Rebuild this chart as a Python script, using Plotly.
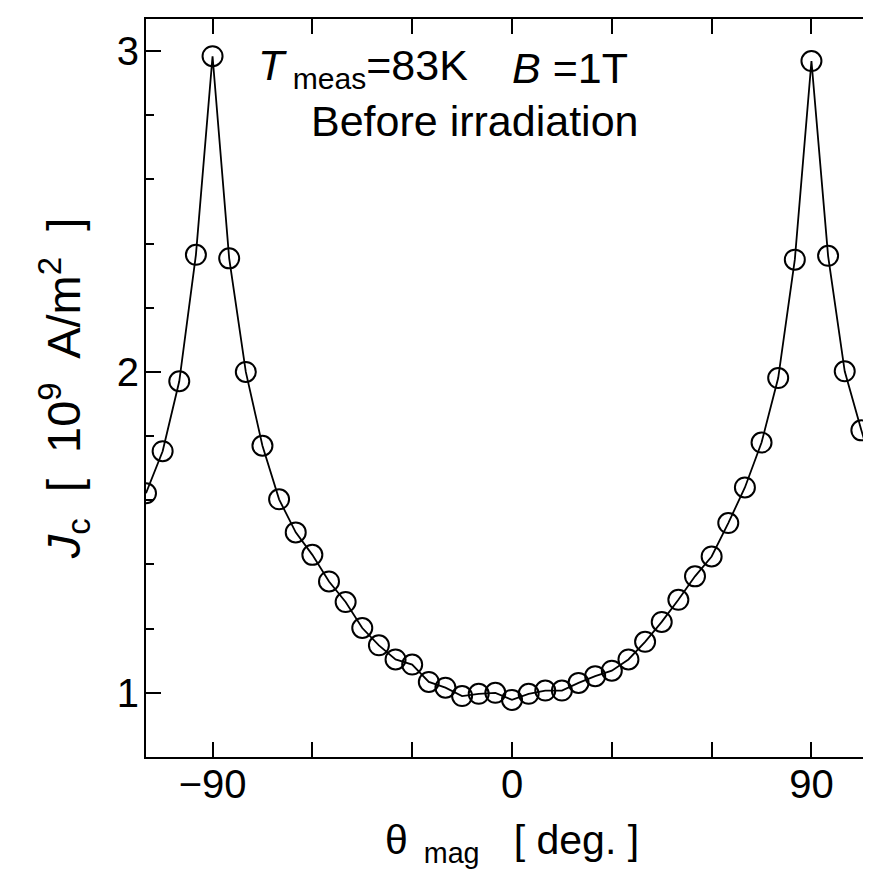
import plotly.graph_objects as go

# Data
theta_deg = [-110, -105, -100, -95, -90, -85, -80, -75, -70, -65, -60, -55, -50,
             -45, -40, -35, -30, -25, -20, -15, -10, -5, 0, 5, 10, 15, 20, 25,
             30, 35, 40, 45, 50, 55, 60, 65, 70, 75, 80, 85, 90, 95, 100, 105, 110]
jc_values = [1.622, 1.753, 1.971, 2.365, 2.984, 2.354, 2.000, 1.770, 1.603, 1.500,
             1.430, 1.347, 1.283, 1.202, 1.148, 1.104, 1.088, 1.034, 1.016, 0.990,
             0.997, 1.000, 0.978, 0.997, 1.007, 1.007, 1.031, 1.052, 1.069, 1.104,
             1.159, 1.221, 1.290, 1.363, 1.425, 1.529, 1.640, 1.780, 1.981, 2.350,
             2.969, 2.362, 2.002, 1.818, 1.646]

x_tickvals = [-90, 0, 90]
x_ticktext = ["\u221290", "0", "90"]
y_tickvals = [1, 2, 3]
y_ticktext = ["1", "2", "3"]

FONT = "Liberation Sans, Arial, sans-serif"
X_RANGE = [-110, 110]
Y_RANGE = [0.8, 3.1]

fig = go.Figure()
fig.add_trace(go.Scatter(
    x=theta_deg, y=jc_values, mode="lines+markers",
    line=dict(color="black", width=1.8),
    marker=dict(symbol="circle-open", size=20, color="black", line=dict(width=2)),
    showlegend=False,
))
# invisible companion trace so that the top/right tick axes are drawn
fig.add_trace(go.Scatter(
    x=theta_deg, y=jc_values, xaxis="x2", yaxis="y2", mode="markers",
    marker=dict(opacity=0), hoverinfo="skip", showlegend=False,
))

fig.add_annotation(
    x=-77, y=2.947, xref="x", yref="y", xanchor="left", yanchor="middle",
    text="<i>T</i><sub> meas</sub>=83K",
    showarrow=False, font=dict(family=FONT, size=43, color="black"),
)
fig.add_annotation(
    x=-0.5, y=2.947, xref="x", yref="y", xanchor="left", yanchor="middle",
    text="<i>B</i> =1T",
    showarrow=False, font=dict(family=FONT, size=43, color="black"),
)
fig.add_annotation(
    x=-61, y=2.782, xref="x", yref="y", xanchor="left", yanchor="middle",
    text="Before irradiation",
    showarrow=False, font=dict(family=FONT, size=43, color="black"),
)
# x-axis title
fig.add_annotation(
    x=0.5, y=-0.116, xref="paper", yref="paper", xanchor="center", yanchor="middle",
    text="\u03b8<sub>  mag</sub>   [ deg. ]",
    showarrow=False, font=dict(family=FONT, size=41, color="black"),
)

tick_common = dict(ticks="inside", ticklen=15, tickwidth=2, tickcolor="black")
x_minor = dict(ticks="inside", ticklen=15, tickwidth=2, tickcolor="black",
               dtick=30, tick0=0, showgrid=False)
y_minor = dict(ticks="inside", ticklen=8, tickwidth=1.5, tickcolor="black",
               dtick=0.2, tick0=0, showgrid=False)

fig.update_layout(
    width=871, height=873,
    margin=dict(l=138, r=1, t=11, b=124, autoexpand=False),
    paper_bgcolor="white", plot_bgcolor="white",
    font=dict(family=FONT, color="black"),
    xaxis=dict(
        range=X_RANGE, tickvals=x_tickvals, ticktext=x_ticktext, **tick_common,
        minor=x_minor,
        showline=True, linewidth=2, linecolor="black", mirror="ticks",
        showgrid=False, zeroline=False, automargin=False,
        tickfont=dict(family=FONT, size=40),
        ticklabelstandoff=-9,
    ),
    yaxis=dict(
        range=Y_RANGE, tickvals=y_tickvals, ticktext=y_ticktext, **tick_common,
        minor=y_minor,
        showline=True, linewidth=2, linecolor="black", mirror="ticks",
        showgrid=False, zeroline=False, automargin=False,
        tickfont=dict(family=FONT, size=40),
        ticklabelstandoff=-3,
        title=dict(text="<i>J</i><sub>c</sub>  [  10<sup>9</sup>  A/m<sup>2</sup>  ]",
                   font=dict(family=FONT, size=47), standoff=21),
    ),
    xaxis2=dict(
        range=X_RANGE, overlaying="x", side="top", anchor="y",
        tickvals=x_tickvals, showticklabels=False, **tick_common,
        minor=x_minor,
        showline=False, showgrid=False, zeroline=False, automargin=False,
    ),
    yaxis2=dict(
        range=Y_RANGE, overlaying="y", side="right", anchor="x",
        tickvals=y_tickvals, showticklabels=False, **tick_common,
        minor=y_minor,
        showline=False, showgrid=False, zeroline=False, automargin=False,
    ),
)

fig.write_html("out.html")
